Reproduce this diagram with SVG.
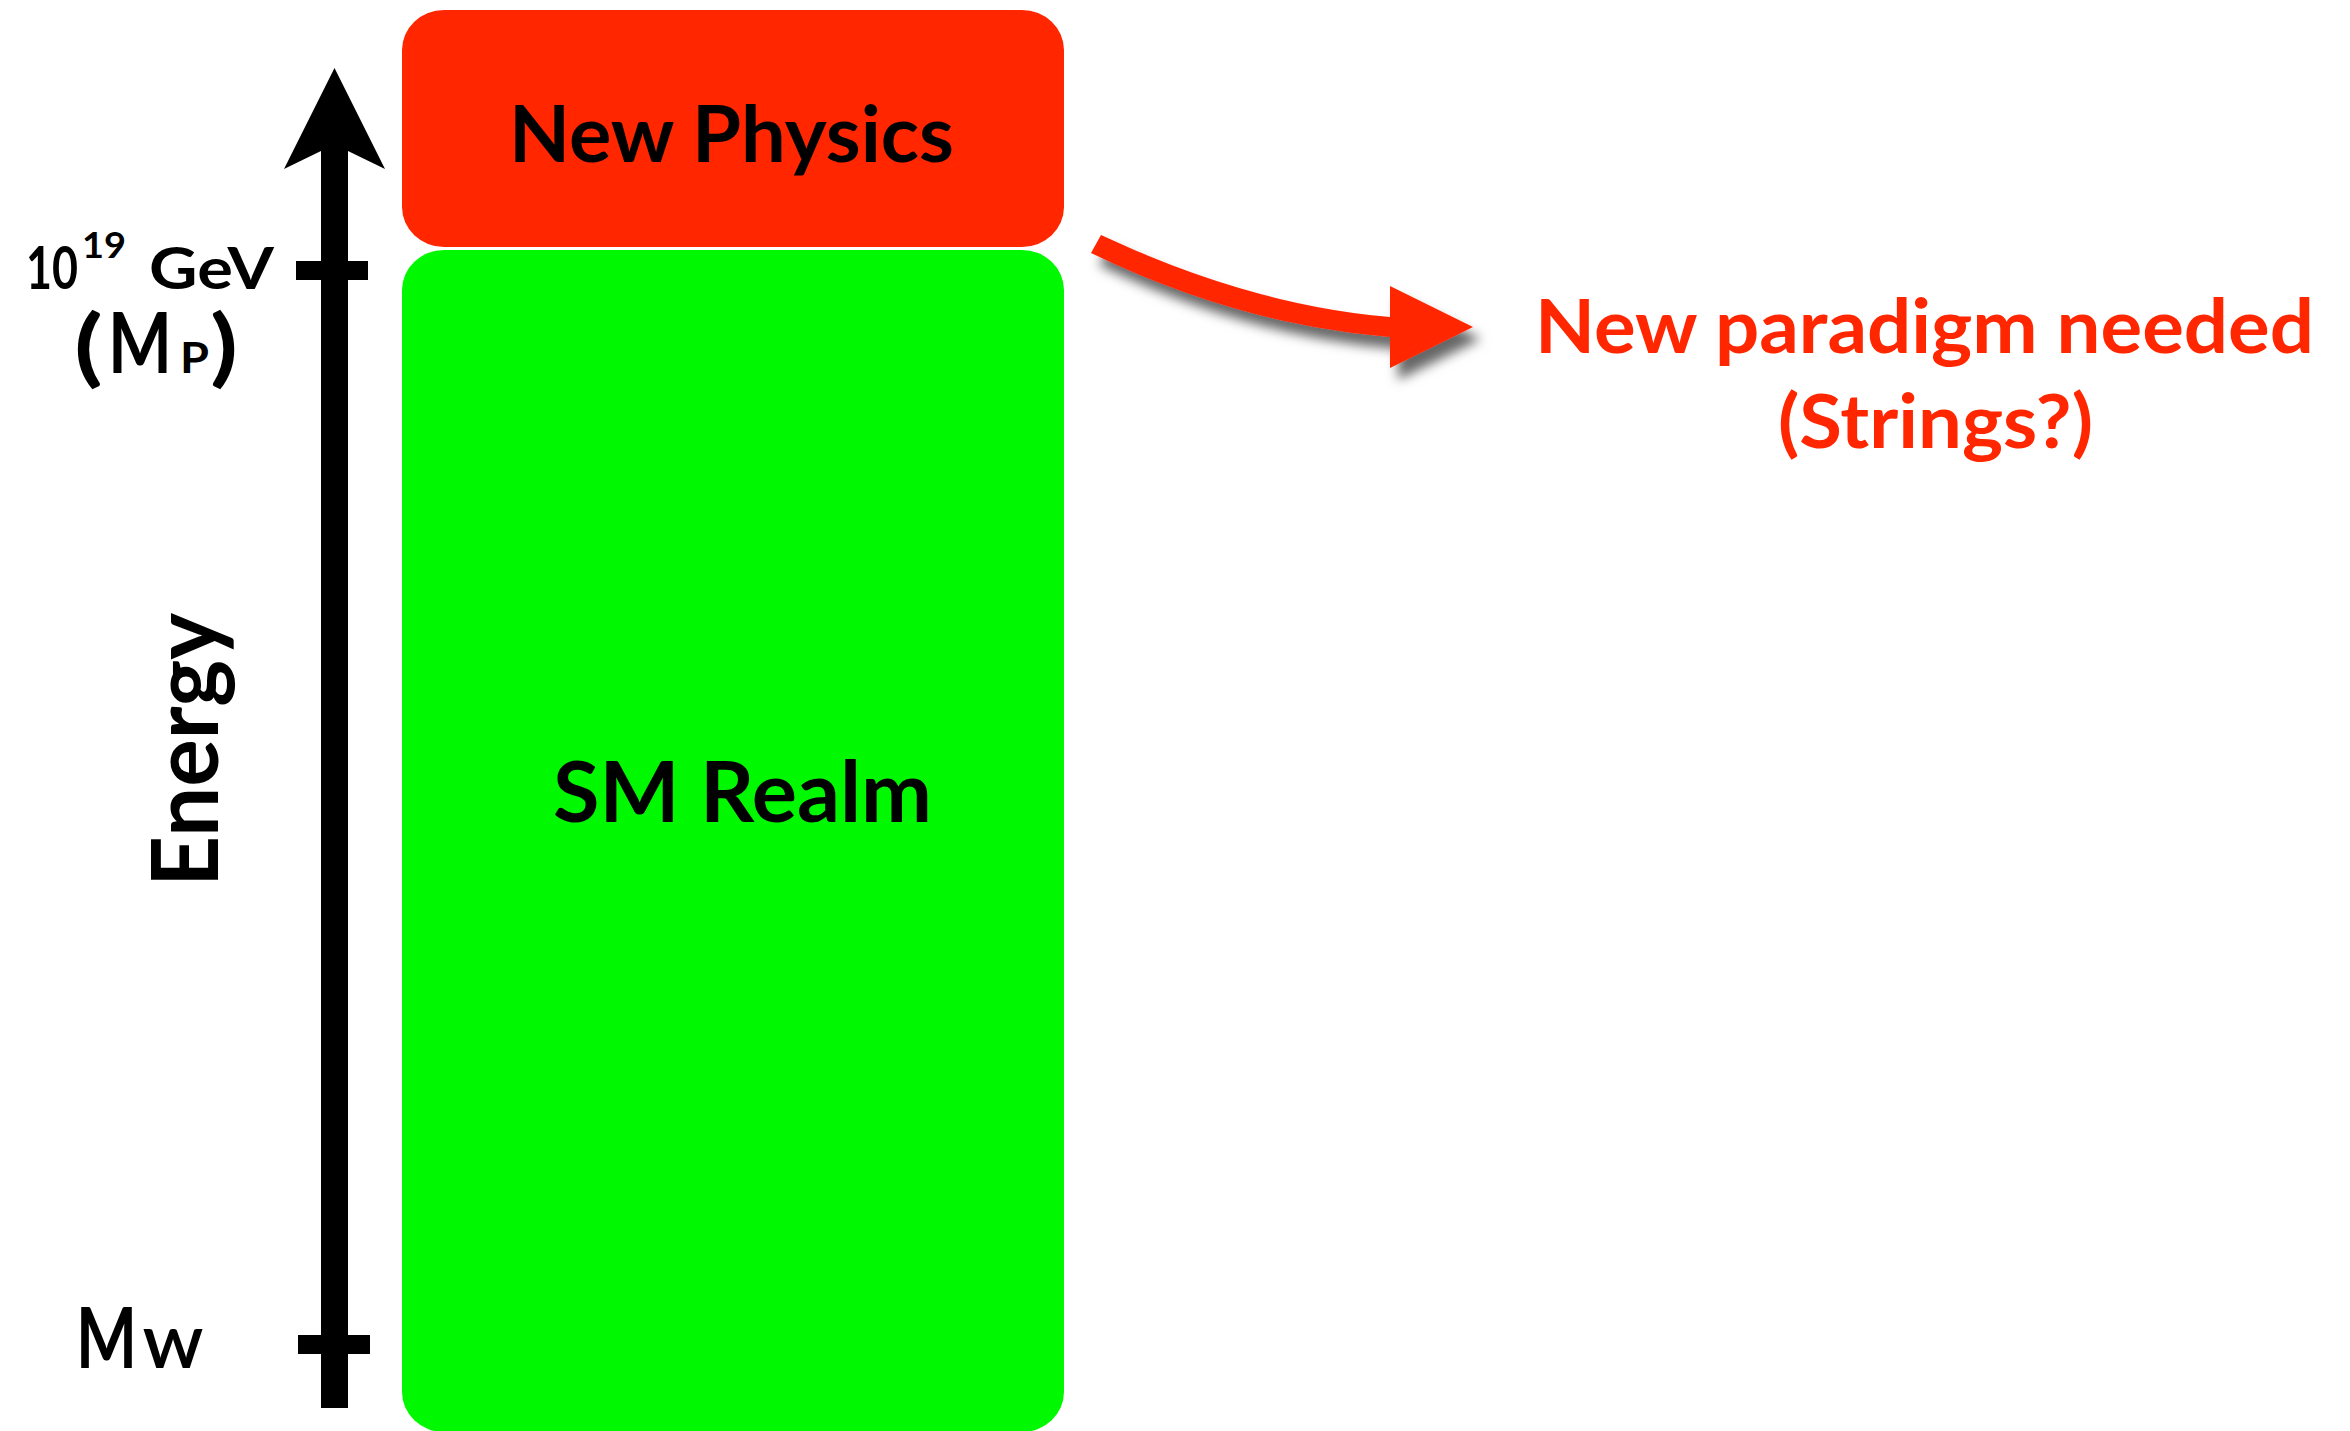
<svg xmlns="http://www.w3.org/2000/svg" width="2350" height="1431" viewBox="0 0 2350 1431">
<defs>
<style>
.t{font-family:Lato,"Open Sans","Liberation Sans",sans-serif;font-weight:700;fill:#000}
.r{fill:#FF2600}
</style>
<filter id="sh" x="-20%" y="-50%" width="150%" height="250%">
<feDropShadow dx="8" dy="12" stdDeviation="6" flood-color="#000" flood-opacity="0.6"/>
</filter>
</defs>
<rect width="2350" height="1431" fill="#fff"/>
<g id="new-physics">
<rect x="402" y="10" width="662" height="237" rx="42" ry="40" fill="#FF2600"/>
<text class="t" x="509" y="162" font-size="78" textLength="445" lengthAdjust="spacingAndGlyphs">New Physics</text>
</g>
<g id="sm-realm">
<rect x="402" y="250" width="662" height="1182" rx="42" ry="40" fill="#00F900"/>
<text class="t" x="553" y="822" font-size="84" textLength="379" lengthAdjust="spacingAndGlyphs">SM Realm</text>
</g>
<g id="energy-axis">
<rect x="321" y="150" width="27" height="1258" fill="#000"/>
<polygon points="334.5,68 385,169 348,151 321,151 284,169" fill="#000"/>
<rect x="296" y="261" width="72" height="19" fill="#000"/>
<rect x="298" y="1335" width="72" height="19" fill="#000"/>
<text class="t" transform="translate(218,887) rotate(-90)" x="0" y="0" font-size="92" textLength="274" lengthAdjust="spacingAndGlyphs">Energy</text>
</g>
<g id="label-planck">
<text class="t" x="26" y="289" font-size="60" textLength="52" lengthAdjust="spacingAndGlyphs">10</text>
<text class="t" x="82" y="258" font-size="36" textLength="44" lengthAdjust="spacingAndGlyphs">19</text>
<text class="t" x="149" y="289" font-size="58" textLength="125" lengthAdjust="spacingAndGlyphs">GeV</text>
<text class="t" x="74" y="376" font-size="84" textLength="29" lengthAdjust="spacingAndGlyphs">(</text>
<text class="t" x="108" y="373" font-size="84" textLength="64" lengthAdjust="spacingAndGlyphs">M</text>
<text class="t" x="180" y="373" font-size="42" textLength="29" lengthAdjust="spacingAndGlyphs">P</text>
<text class="t" x="210" y="376" font-size="84" textLength="28" lengthAdjust="spacingAndGlyphs">)</text>
</g>
<g id="label-mw">
<text class="t" x="76" y="1368" font-size="84" textLength="61" lengthAdjust="spacingAndGlyphs">M</text>
<text class="t" x="143" y="1368" font-size="53" textLength="60" lengthAdjust="spacingAndGlyphs">W</text>
</g>
<g id="connectors">
<path d="M1101,235 Q1250,305 1390,317 L1390,286 L1473,327 L1390,368 L1390,337 Q1240,325 1091,253 Z" fill="#FF2600" filter="url(#sh)"/>
</g>
<g id="new-paradigm">
<text class="t r" x="1535" y="353" font-size="75" textLength="779" lengthAdjust="spacingAndGlyphs">New paradigm needed</text>
<text class="t r" x="1778" y="448" font-size="75" textLength="315" lengthAdjust="spacingAndGlyphs">(Strings?)</text>
</g>
</svg>
